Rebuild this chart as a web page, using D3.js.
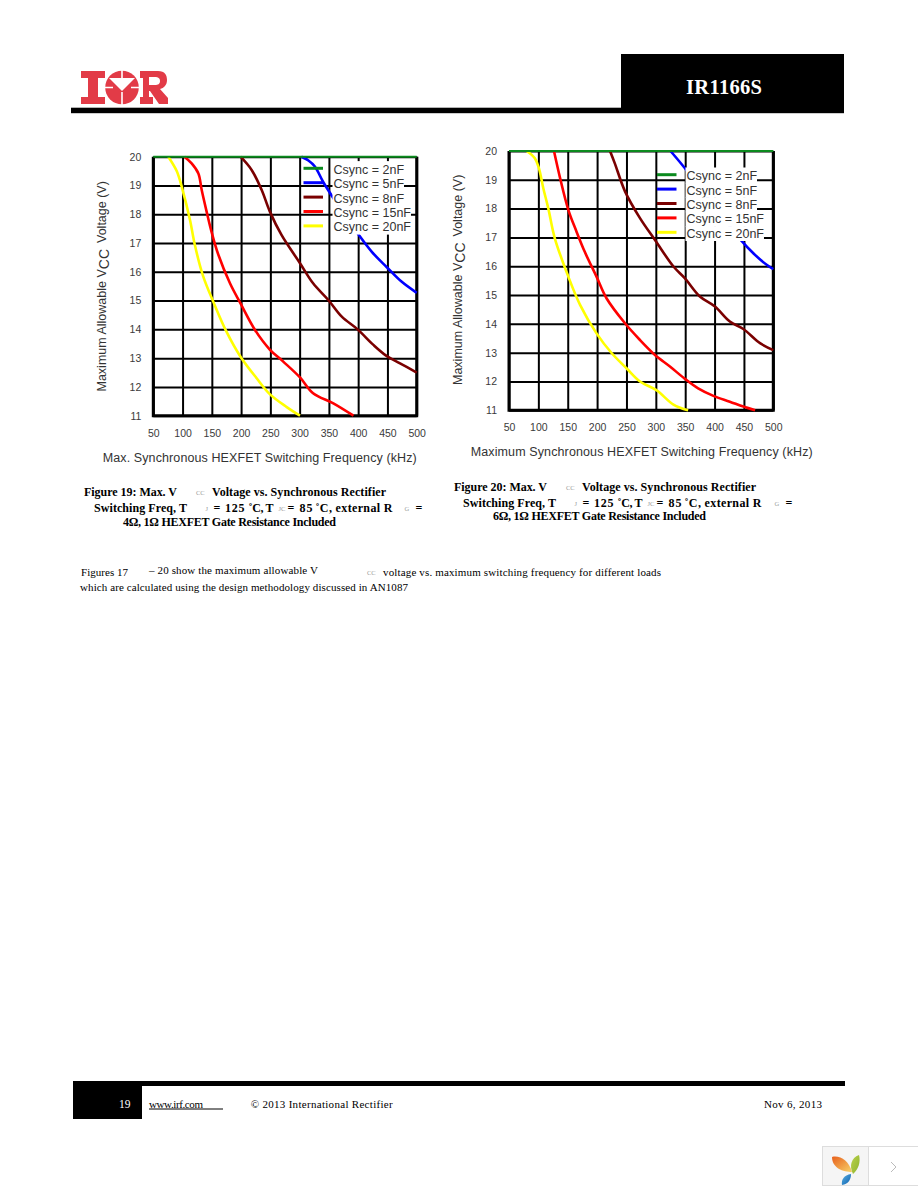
<!DOCTYPE html>
<html>
<head>
<meta charset="utf-8">
<title>IR1166S page 19</title>
<script src="https://cdn.jsdelivr.net/npm/d3@7"></script>
<style>
  html, body { margin: 0; padding: 0; background: #fff; }
  svg { display: block; }
  .sans { font-family: "Liberation Sans", Arial, sans-serif; }
  .serif { font-family: "Liberation Serif", "Times New Roman", serif; }
</style>
</head>
<body>
<svg id="page" width="918" height="1188"></svg>
<script>
const freqTicks = [50, 100, 150, 200, 250, 300, 350, 400, 450, 500];
const voltTicks = [11, 12, 13, 14, 15, 16, 17, 18, 19, 20];
const seriesNames = ['Csync = 2nF', 'Csync = 5nF', 'Csync = 8nF', 'Csync = 15nF', 'Csync = 20nF'];
const seriesColors = ['#0b8a1e', '#0000ff', '#7a0000', '#ff0000', '#ffff00'];

// Figure 19, [kHz, V]
const fig19_2nF = [[50, 20], [500, 20]];
const fig19_5nF = [[303, 20], [315, 19.87], [326, 19.66], [340, 19.13], [358, 18.55], [399, 17.34], [423, 16.7], [449, 16.16], [474, 15.66], [500, 15.27]];
const fig19_8nF = [[199, 20], [218, 19.54], [235, 18.85], [249, 18.1], [269, 17.28], [300.6, 16.3], [323, 15.6], [349, 15.02], [372, 14.44], [399, 14], [426, 13.46], [449, 13.07], [471.5, 12.82], [500, 12.5]];
const fig19_15nF = [[103, 20], [115.5, 19.77], [127, 19.42], [132.6, 18.85], [141, 18.1], [150, 17.35], [161, 16.6], [181, 15.6], [199, 14.9], [223.7, 13.98], [249, 13.3], [272, 12.88], [300.6, 12.33], [323, 11.78], [357.6, 11.43], [392, 11]];
const fig19_20nF = [[75.6, 20], [90, 19.5], [100, 18.85], [112.7, 17.8], [121, 16.93], [135.4, 15.83], [152.5, 14.96], [175, 13.92], [199, 13.05], [226.6, 12.3], [249, 11.75], [278, 11.3], [300.6, 11]];

// Figure 20, [kHz, V]
const fig20_2nF = [[50, 20], [500, 20]];
const fig20_5nF = [[325, 20], [349.6, 19.4], [446, 16.88], [466, 16.45], [488.7, 16.05], [500, 15.9]];
const fig20_8nF = [[222, 20], [230, 19.58], [247.5, 18.6], [273, 17.67], [298.6, 16.91], [330, 15.99], [349.6, 15.58], [375, 14.95], [400.7, 14.6], [426, 14.08], [449, 13.82], [477.4, 13.33], [500, 13.09]];
const fig20_15nF = [[126.6, 20], [137, 19.06], [151, 17.96], [165, 17.2], [179, 16.5], [199, 15.64], [216, 14.89], [247.5, 14.02], [273, 13.44], [298.6, 12.92], [324, 12.52], [349.6, 12.09], [372, 11.76], [398, 11.5], [426, 11.3], [449, 11.13], [469, 11]];
const fig20_20nF = [[80, 20], [94, 19.75], [101, 19.4], [108.5, 18.7], [117, 18], [128, 16.97], [151, 15.64], [171, 14.66], [199, 13.67], [225, 12.98], [250, 12.46], [273, 12], [301, 11.7], [330, 11.2], [355, 11]];

const svg = d3.select('#page');

function drawChart(cfg) {
    const g = svg.append('g');
    const x = d3.scaleLinear().domain([50, 500]).range([cfg.left, cfg.right]);
    const y = d3.scaleLinear().domain([11, 20]).range([cfg.bottom, cfg.top]);

    // Grid comes from the axis ticks
    const xAxis = g.append('g')
        .attr('transform', `translate(0,${cfg.bottom})`)
        .call(d3.axisBottom(x).tickValues(freqTicks).tickFormat(d3.format('d'))
            .tickSize(-(cfg.bottom - cfg.top)).tickPadding(13.5));
    const yAxis = g.append('g')
        .attr('transform', `translate(${cfg.left},0)`)
        .call(d3.axisLeft(y).tickValues(voltTicks).tickFormat(d3.format('d'))
            .tickSize(-(cfg.right - cfg.left)).tickPadding(12));
    [xAxis, yAxis].forEach(a => {
        a.select('.domain').remove();
        a.selectAll('line').attr('stroke', '#000').attr('stroke-width', 2);
        a.selectAll('text').attr('class', 'sans').attr('font-size', 10.5).attr('fill', '#3a3a3a');
    });

    // Border, the top edge is covered by the 2nF line
    g.append('path')
        .attr('d', `M${x(50)},${y(20)}V${y(11)}H${x(500)}V${y(20)}`)
        .attr('fill', 'none').attr('stroke', '#000').attr('stroke-width', 3);

    const line = d3.line().x(d => x(d[0])).y(d => y(d[1])).curve(d3.curveCatmullRom.alpha(0.5));
    // 2nF goes last so it sits on top of the frame
    [4, 3, 2, 1, 0].forEach(i => {
        g.append('path')
            .attr('d', line(cfg.series[i]))
            .attr('fill', 'none')
            .attr('stroke', seriesColors[i])
            .attr('stroke-width', i === 0 ? 2 : 2.6);
    });

    // Legend: text has a white box behind it that hides grid and curves
    seriesNames.forEach((name, i) => {
        const rowY = cfg.legendY + i * cfg.legendStep;
        const label = g.append('text')
            .attr('class', 'sans')
            .attr('x', cfg.legendX)
            .attr('y', rowY + 4.5)
            .attr('font-size', 12.5)
            .attr('fill', '#333')
            .text(name);
        const w = label.node().getComputedTextLength();
        g.insert('rect', () => label.node())
            .attr('x', cfg.legendX - 1)
            .attr('y', rowY - cfg.legendStep / 2 - (i === 0 ? 1 : 0))
            .attr('width', w + 1)
            .attr('height', cfg.legendStep + (i === 0 ? 1 : 0) + 0.5)
            .attr('fill', '#fff');
        g.append('line')
            .attr('x1', cfg.sampleX).attr('x2', cfg.sampleX + 19.5)
            .attr('y1', rowY - 1).attr('y2', rowY - 1)
            .attr('stroke', seriesColors[i]).attr('stroke-width', 3);
    });

    // Axis titles
    g.append('text')
        .attr('class', 'sans')
        .attr('x', cfg.xTitleX).attr('y', cfg.xTitleY)
        .attr('font-size', 12.5).attr('fill', '#333')
        .attr('textLength', cfg.xTitleLen)
        .text(cfg.xTitle);

    const yTitle = g.append('text')
        .attr('class', 'sans')
        .attr('transform', `translate(${cfg.yTitleX},${cfg.yTitleY}) rotate(-90)`)
        .attr('font-size', 12.5).attr('fill', '#333');
    yTitle.append('tspan').text('Maximum Allowable V');
    yTitle.append('tspan').attr('dy', 3).attr('font-size', 14).text('CC');
    yTitle.append('tspan').attr('dy', -3).attr('dx', 6).text('Voltage (V)');
}

drawChart({
    left: 153.3, right: 416.7, top: 156.7, bottom: 415.7,
    series: [fig19_2nF, fig19_5nF, fig19_8nF, fig19_15nF, fig19_20nF],
    legendX: 333.5, legendY: 169.3, legendStep: 14.4, sampleX: 303.5,
    xTitle: 'Max. Synchronous HEXFET Switching Frequency (kHz)',
    xTitleX: 102.7, xTitleY: 461.5, xTitleLen: 314,
    yTitleX: 106, yTitleY: 391.5
});

drawChart({
    left: 509, right: 773.3, top: 151, bottom: 410.3,
    series: [fig20_2nF, fig20_5nF, fig20_8nF, fig20_15nF, fig20_20nF],
    legendX: 686.5, legendY: 175.7, legendStep: 14.4, sampleX: 657,
    xTitle: 'Maximum Synchronous HEXFET Switching Frequency (kHz)',
    xTitleX: 470.7, xTitleY: 456, xTitleLen: 342,
    yTitleX: 462, yTitleY: 385
});

// Page text, pieces are placed one by one like the PDF conversion did
function put(x, y, text, size, opts = {}) {
    const t = svg.append('text')
        .attr('class', 'serif')
        .attr('x', x).attr('y', y)
        .attr('font-size', size)
        .attr('font-weight', opts.bold ? 700 : 400)
        .attr('fill', opts.fill || '#000')
        .text(text);
    if (opts.len) t.attr('textLength', opts.len);
    return t;
}
const sub = (x, y, text) => put(x, y, text, 6.5, { fill: '#999' });
const cap = (x, y, text, len) => put(x, y, text, 12, { bold: true, len });

function caption(x0, y0, x1, y1, x2, y2, n, gate, subOff) {
    cap(x0, y0, `Figure ${n}: Max. V`, 93);
    sub(x0 + 112, y0 - 1.5, 'CC');
    cap(x0 + 128, y0, 'Voltage vs. Synchronous Rectifier', 174);
    cap(x1, y1, 'Switching Freq, T', 93);
    sub(x1 + 111.5, y1 - 1.5, 'J');
    cap(x1 + 119.5, y1, '= 125', 31);
    cap(x1 + 154.5, y1, '˚C, T', 25);
    sub(x1 + 184.5, y1 - 1.5, 'JC');
    cap(x1 + 193.5, y1, '= 85', 25);
    cap(x1 + 221.5, y1, '˚C, external R', 77);
    sub(x1 + 310.5 + subOff, y1 - 1.5, 'G');
    cap(x1 + 321.5 + subOff, y1, '=');
    cap(x2, y2, `${gate}Ω, 1Ω HEXFET Gate Resistance Included`, 213);
}
caption(84, 496, 94, 512, 123, 525.5, 19, 4, 0);
caption(454, 491, 463, 507, 493, 520, 20, 6, 1);

put(81, 576, 'Figures 17', 11, { len: 47 });
put(149, 573.5, '– 20 show the maximum allowable V', 11, { len: 169 });
sub(367, 575, 'CC');
put(383, 576, 'voltage vs. maximum switching frequency for different loads', 11, { len: 278 });
put(80, 591, 'which are calculated using the design methodology discussed in AN1087', 11, { len: 328 });

// Header
svg.append('rect').attr('x', 71).attr('y', 107.7).attr('width', 773).attr('height', 5.5).attr('fill', '#000');
svg.append('rect').attr('x', 621).attr('y', 54).attr('width', 223).attr('height', 59).attr('fill', '#000');
put(686, 94, 'IR1166S', 20.5, { bold: true, fill: '#fff', len: 76 });

// IOR logo
const logo = svg.append('g').attr('fill', '#e23b47');
logo.append('path').attr('d', 'M81,71H105V78H98V97H105V104H81V97H88V78H81Z');
logo.append('circle').attr('cx', 122).attr('cy', 87.5).attr('r', 16.8);
logo.append('path').attr('fill', '#fff').attr('d', 'M109,78H135L122,91Z');
logo.append('path').attr('fill', '#fff').attr('d', 'M121.2,70H122.8V80H121.2ZM121.2,92H122.8V105H121.2ZM105,86.8H113V88.2H105ZM131,86.8H139V88.2H131Z');
logo.append('path').attr('fill-rule', 'evenodd').attr('d', 'M140,71H158C165,71 167,75 167,80C167,85 164,88 160,89L168,98V104H159L150,91H149V97H153V104H140V97H143V78H140ZM149,77V85H155C158,85 160,84 160,81C160,78 158,77 155,77Z');

// Footer
svg.append('rect').attr('x', 73).attr('y', 1081).attr('width', 772).attr('height', 5).attr('fill', '#000');
svg.append('rect').attr('x', 73).attr('y', 1081).attr('width', 69).attr('height', 38).attr('fill', '#000');
put(119, 1108, '19', 11.5, { fill: '#fff' });
put(149, 1108, 'www.irf.com', 11, { len: 54 });
svg.append('line').attr('x1', 149).attr('x2', 223).attr('y1', 1109).attr('y2', 1109).attr('stroke', '#000');
put(250.7, 1108, '© 2013 International Rectifier', 11, { len: 142 });
put(764, 1108, 'Nov 6, 2013', 11, { len: 58 });

// Viewer widget in the corner
const defs = svg.append('defs');
const grad = (id, a, b) => {
    const lg = defs.append('linearGradient').attr('id', id).attr('x1', 0).attr('y1', 0).attr('x2', 1).attr('y2', 1);
    lg.append('stop').attr('offset', 0).attr('stop-color', a);
    lg.append('stop').attr('offset', 1).attr('stop-color', b);
};
grad('leafA', '#e8601c', '#f7d36a');
grad('leafB', '#b9d24a', '#8fb32e');
grad('leafC', '#5bb0e0', '#0a5fb0');
svg.append('rect').attr('x', 822.5).attr('y', 1146.5).attr('width', 46).attr('height', 39).attr('fill', '#f5f5f5').attr('stroke', '#ddd');
svg.append('rect').attr('x', 868.5).attr('y', 1146.5).attr('width', 50).attr('height', 39).attr('fill', '#fff').attr('stroke', '#ddd');
svg.append('path').attr('fill', 'url(#leafA)').attr('d', 'M832,1157C840,1155 849,1161 852,1172C843,1172 832,1168 832,1157Z');
svg.append('path').attr('fill', 'url(#leafB)').attr('d', 'M859,1155C861,1162 858,1170 853,1174C849,1166 851,1158 859,1155Z');
svg.append('path').attr('fill', 'url(#leafC)').attr('d', 'M851,1174C851,1180 848,1184 842,1185C841,1180 844,1175 851,1174Z');
svg.append('path').attr('fill', 'none').attr('stroke', '#bbb').attr('d', 'M891,1162L896,1167L891,1172');
</script>
</body>
</html>
